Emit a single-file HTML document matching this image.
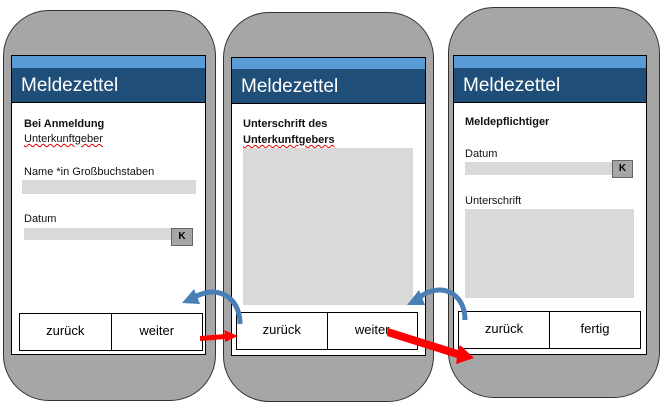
<!DOCTYPE html>
<html><head><meta charset="utf-8"><style>
body{margin:0;width:665px;height:406px;background:#fff;position:relative;overflow:hidden;font-family:"Liberation Sans",sans-serif}
.ph{position:absolute;background:#a6a6a6;border:1.5px solid #333;border-radius:46px;box-sizing:border-box}
.sc{position:absolute;background:#fff;border:1.5px solid #000;box-sizing:border-box}
.lb{position:absolute;left:0;right:0;top:0;height:12px;background:#5b9bd5;border-bottom:1.5px solid #000}
.hd{position:absolute;left:0;right:0;top:12px;height:35px;background:#1f4e79;border-bottom:1.5px solid #000;color:#fff;font-size:19px;line-height:35px;padding-left:9px;box-sizing:border-box}
.t{position:absolute;font-size:11px;color:#111;white-space:nowrap}
.b{font-weight:bold}
.u{text-decoration:underline wavy #d00;text-decoration-thickness:1px}
.f{position:absolute;background:#d9d9d9}
.k{position:absolute;background:#a6a6a6;border:1px solid #666;box-sizing:border-box;font-size:10px;font-weight:bold;text-align:center}
.bt{position:absolute;border:1.5px solid #000;background:#fff;box-sizing:border-box;display:flex}
.bt div{flex:1;text-align:center;font-size:13px;line-height:34px}
.bt div:first-child{border-right:1.5px solid #000}
</style></head><body>
<div class="ph" style="left:3px;top:10px;width:213px;height:391px"></div>
<div class="ph" style="left:223px;top:12px;width:211px;height:390px"></div>
<div class="ph" style="left:448px;top:7px;width:212px;height:391px"></div>

<div class="sc" style="left:11px;top:55px;width:195px;height:300px"><div class="lb"></div><div class="hd">Meldezettel</div></div>
<div class="sc" style="left:231px;top:57px;width:195px;height:299px"><div class="lb"></div><div class="hd" style="top:11px">Meldezettel</div></div>
<div class="sc" style="left:453px;top:55px;width:194px;height:300px"><div class="lb"></div><div class="hd">Meldezettel</div></div>

<div class="t b" style="left:24px;top:118px">Bei Anmeldung</div>
<div class="t u" style="left:24px;top:133px">Unterkunftgeber</div>
<div class="t" style="left:24px;top:166px">Name *in Großbuchstaben</div>
<div class="f" style="left:22px;top:180px;width:174px;height:14px"></div>
<div class="t" style="left:24px;top:213px">Datum</div>
<div class="f" style="left:24px;top:228px;width:148px;height:12px"></div>
<div class="k" style="left:171px;top:228px;width:22px;height:18px;line-height:16px">K</div>
<div class="bt" style="left:19px;top:313px;width:184px;height:38px"><div>zurück</div><div>weiter</div></div>

<div class="t b" style="left:243px;top:118px">Unterschrift des</div>
<div class="t b u" style="left:243px;top:134px">Unterkunftgebers</div>
<div class="f" style="left:243px;top:148px;width:170px;height:157px"></div>
<div class="bt" style="left:236px;top:312px;width:182px;height:38px"><div>zurück</div><div>weiter</div></div>

<div class="t b" style="left:465px;top:116px">Meldepflichtiger</div>
<div class="t" style="left:465px;top:148px">Datum</div>
<div class="f" style="left:465px;top:162px;width:148px;height:13px"></div>
<div class="k" style="left:612px;top:160px;width:21px;height:18px;line-height:16px">K</div>
<div class="t" style="left:465px;top:195px">Unterschrift</div>
<div class="f" style="left:465px;top:209px;width:169px;height:89px"></div>
<div class="bt" style="left:458px;top:311px;width:183px;height:38px"><div>zurück</div><div>fertig</div></div>

<svg width="665" height="406" style="position:absolute;left:0;top:0">
<g fill="none" stroke="#4a7fb5" stroke-width="5">
<path d="M240,324 C240,295 215,285 195,297"/>
<path d="M465,320 C465,292 440,282 420,297"/>
</g>
<polygon points="182,303 194,289 200,304" fill="#4a7fb5"/>
<polygon points="407,305 419,290 425,305" fill="#4a7fb5"/>
<g fill="red">
<polygon points="200,336 225,334 224,330 238,336 225,342 225,339 200,341"/>
<polygon points="388,328 458,350 460,345 474,358 456,364 457,358 387,336"/>
</g>
</svg>
</body></html>
